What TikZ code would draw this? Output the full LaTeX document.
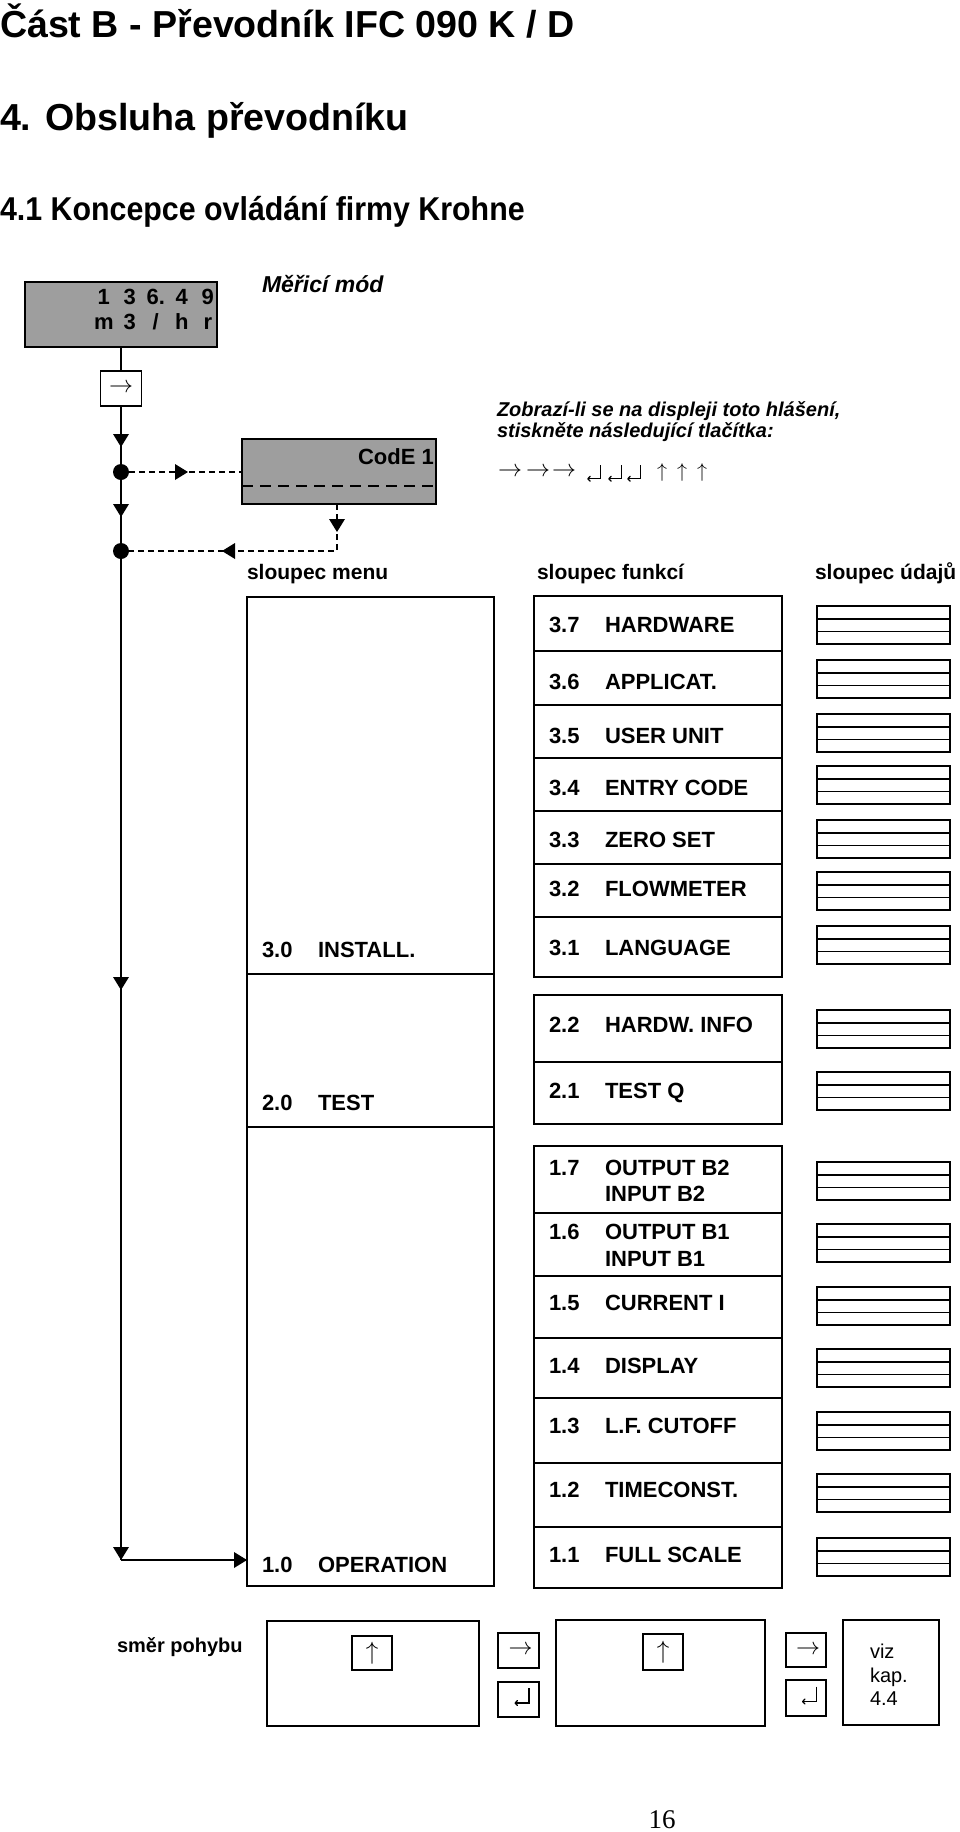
\documentclass[tikz,border=0pt]{standalone}
\usepackage{fontspec}
\usepackage{graphicx}
\setmainfont{Liberation Sans}
\newfontfamily\seriffam{Liberation Serif}
\usetikzlibrary{arrows.meta,calc}
\newcommand\fs[1]{\fontsize{#1}{#1}\selectfont}
\newcommand\cb[1]{\makebox[26pt][c]{#1}}
\newcommand\symsz[2]{\scalebox{#1}{\fontsize{10}{10}\selectfont$#2$}}
\newcommand\boxat[6][]{%
  \pgfmathsetmacro\bxw{#5-#3}%
  \pgfmathsetmacro\bxh{#6-#4}%
  \node[box,minimum width=\bxw pt,minimum height=\bxh pt,#1] (#2) at (#3,#4) {};}
\begin{document}
\begin{tikzpicture}[x=1pt,y=-1pt,
  box/.style={draw,line width=2pt,inner sep=0pt,outer sep=0pt,anchor=north west},
  keybox/.style={line width=1.6pt},
  dbox/.style={line width=1.5pt},
  gray/.style={fill=black!38,line width=1.8pt},
  txt/.style={anchor=base west,inner sep=0pt,outer sep=0pt},
  fn/.style={txt,font=\bfseries\fs{22}},
  hdr/.style={txt,font=\bfseries\fs{21}},
  mainline/.style={line width=1.5pt},
  dashline/.style={line width=1.4pt,dash pattern=on 6pt off 4pt},
  dot/.style={circle,fill,inner sep=0pt,minimum size=16pt},
  glyph/.style={inner sep=0pt,outer sep=0pt},
  triD/.pic={\fill (0,0) -- (-8,-13) -- (8,-13) -- cycle;},
  triR/.pic={\fill (0,0) -- (-13,-8) -- (-13,8) -- cycle;},
  triL/.pic={\fill (0,0) -- (13,-8) -- (13,8) -- cycle;},
  enterglyph/.pic={\draw[line width=1.2pt,-{To[length=3.5pt,width=6pt]}] (7,-7.5) -- (7,7.5) -- (-7.5,7.5);}
]
\fill[white] (0,0) rectangle (960,1832);
\useasboundingbox (0,0) rectangle (960,1832);

% headings
\node[txt,font=\bfseries\fs{37.6}] (t1) at (0,37) {Část B - Převodník IFC 090 K / D};
\node[txt,font=\bfseries\fs{37.6}] (t2) at (0,130) {4. Obsluha převodníku};
\node[txt,font=\bfseries\fs{33}] (t3) at (0,220) {\scalebox{0.92}[1]{4.1 Koncepce ovládání firmy Krohne}};

% measuring display
\boxat[gray]{disp}{25}{282}{217}{347}
\node[anchor=base east,inner sep=0pt,font=\bfseries\fs{22}] (dl1) at (221,304) {\cb{1}\cb{3}\cb{6.}\cb{4}\cb{9}};
\node[anchor=base east,inner sep=0pt,font=\bfseries\fs{22}] (dl2) at (221,329) {\cb{m}\cb{3}\cb{/}\cb{h}\cb{r}};
\node[txt,font=\bfseries\itshape\fs{23}] (mm) at (262,292) {Měřicí mód};

% right key on main line
\boxat[keybox]{k0}{100.5}{371}{141.5}{406}
\node[glyph] (k0a) at (k0.center) {\symsz{2.4}{\rightarrow}};

% CodE display
\boxat[gray]{code}{242}{439}{436}{504}
\node[anchor=base east,inner sep=0pt,font=\bfseries\fs{22}] (codet) at (434,464) {CodE 1};
\draw[line width=1.8pt,dash pattern=on 11pt off 7pt] ($(code.west)+(0,14.5)$) -- ($(code.east)+(0,14.5)$);

% main line
\coordinate (corner) at (121,1560);
\draw[mainline] (disp.south) -- (k0.north);
\draw[mainline] (k0.south) -- (corner);
\node[dot] (dot1) at (121,472) {};
\node[dot] (dot2) at (121,551) {};
\pic at (121,447) {triD};
\pic at (121,517) {triD};
\pic at (121,990) {triD};
\pic at (121,1560) {triD};

% dashed side path
\coordinate (c1) at (337,551);
\draw[dashline] (dot1) -- (dot1 -| code.west);
\pic at (188,472) {triR};
\draw[dashline] (code.south -| c1) -- (c1) -- (dot2);
\pic at (337,532) {triD};
\pic at (222,551) {triL};

% instruction text
\node[txt,font=\bfseries\itshape\fs{20}] (z1) at (497,416) {Zobrazí-li se na displeji toto hlášení,};
\node[txt,font=\bfseries\itshape\fs{20}] (z2) at (497,437) {stiskněte následující tlačítka:};
\node[glyph] (ka1) at (510,472) {\symsz{2.4}{\rightarrow}};
\node[glyph] (ka2) at (538,472) {\symsz{2.4}{\rightarrow}};
\node[glyph] (ka3) at (564,472) {\symsz{2.4}{\rightarrow}};
\pic[scale=0.9] at (594,472) {enterglyph};
\pic[scale=0.9] at (615,472) {enterglyph};
\pic[scale=0.9] at (634,472) {enterglyph};
\node[glyph] (ku1) at (662,472) {\symsz{2.0}{\uparrow}};
\node[glyph] (ku2) at (682,472) {\symsz{2.0}{\uparrow}};
\node[glyph] (ku3) at (702,472) {\symsz{2.0}{\uparrow}};

% column headers
\node[hdr] (h1) at (247,579) {sloupec menu};
\node[hdr] (h2) at (537,579) {sloupec funkcí};
\node[hdr] (h3) at (815,579) {sloupec údajů};

% menu column
\boxat{menu}{247}{597}{494}{1586}
\draw[line width=2pt] (menu.west |- 0,974) -- (menu.east |- 0,974);
\draw[line width=2pt] (menu.west |- 0,1127) -- (menu.east |- 0,1127);
\node[fn] (m3n) at (262,957) {3.0};
\node[fn] (m3l) at (318,957) {INSTALL.};
\node[fn] (m2n) at (262,1110) {2.0};
\node[fn] (m2l) at (318,1110) {TEST};
\node[fn] (m1n) at (262,1572) {1.0};
\node[fn] (m1l) at (318,1572) {OPERATION};
\draw[mainline] (corner) -- (menu.west |- corner);
\pic at (247,1560) {triR};

% function column
\foreach \n/\t/\b/\num/\lab/\bl in {
  f37/596/651/3.7/HARDWARE/632,
  f36/651/705/3.6/APPLICAT./689,
  f35/705/758/3.5/USER UNIT/743,
  f34/758/811/3.4/ENTRY CODE/795,
  f33/811/864/3.3/ZERO SET/847,
  f32/864/917/3.2/FLOWMETER/896,
  f31/917/977/3.1/LANGUAGE/955,
  f22/995/1062/2.2/HARDW. INFO/1032,
  f21/1062/1124/2.1/TEST Q/1098,
  f17/1146/1213/1.7/OUTPUT B2/1175,
  f16/1213/1276/1.6/OUTPUT B1/1239,
  f15/1276/1338/1.5/CURRENT I/1310,
  f14/1338/1398/1.4/DISPLAY/1373,
  f13/1398/1463/1.3/L.F. CUTOFF/1433,
  f12/1463/1527/1.2/TIMECONST./1497,
  f11/1527/1588/1.1/FULL SCALE/1562}{
  \boxat{\n}{534}{\t}{782}{\b}
  \node[fn] (num\n) at (549,\bl) {\num};
  \node[fn] (lab\n) at (605,\bl) {\lab};
}
\node[fn] (labf17b) at (605,1201) {INPUT B2};
\node[fn] (labf16b) at (605,1266) {INPUT B1};

% data column
\foreach \t [count=\i] in {606,660,714,766,820,872,926,1010,1072,1162,1224,1287,1349,1412,1474,1538}{
  \boxat[dbox]{d\i}{817}{\t}{950}{\t+38}
  \draw[line width=1.1pt] (817,\t+13) -- (950,\t+13);
  \draw[line width=1.1pt] (817,\t+25.5) -- (950,\t+25.5);
}

% direction of movement
\node[txt,font=\bfseries\fs{20}] (smer) at (117,1652) {směr pohybu};
\boxat{b1}{267}{1621}{479}{1726}
\boxat[keybox]{u1}{352}{1636}{392}{1670}
\node[glyph] (u1a) at (u1.center) {\symsz{2.5}{\uparrow}};
\boxat[keybox]{r1}{498}{1633}{539}{1668}
\node[glyph] (r1a) at ($(r1.center)+(2,0)$) {\symsz{2.4}{\rightarrow}};
\boxat[keybox]{e1}{498}{1682}{539}{1717}
\pic at ($(e1.center)+(3.5,-4)$) {enterglyph};
\boxat{b2}{556}{1620}{765}{1726}
\boxat[keybox]{u2}{643}{1634}{683}{1670}
\node[glyph] (u2a) at (u2.center) {\symsz{2.5}{\uparrow}};
\boxat[keybox]{r2}{786}{1633}{826}{1667}
\node[glyph] (r2a) at ($(r2.center)+(2,0)$) {\symsz{2.4}{\rightarrow}};
\boxat[keybox]{e2}{786}{1680}{826}{1716}
\pic at ($(e2.center)+(3.5,-4)$) {enterglyph};
\boxat{b3}{843}{1620}{939}{1725}
\node[txt,font=\fs{20}] (viz1) at (870,1658) {viz};
\node[txt,font=\fs{20}] (viz2) at (870,1682) {kap.};
\node[txt,font=\fs{20}] (viz3) at (870,1705) {4.4};

% page number
\node[anchor=base,inner sep=0pt,font=\seriffam\fs{27}] (pg) at (662,1828) {16};
\end{tikzpicture}
\end{document}
